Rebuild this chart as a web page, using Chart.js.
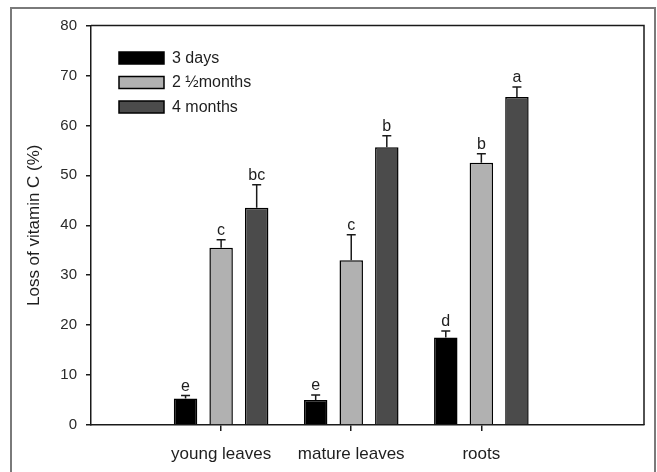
<!DOCTYPE html>
<html>
<head>
<meta charset="utf-8">
<script src="https://cdn.jsdelivr.net/npm/chart.js@4/dist/chart.umd.min.js"></script>
<style>
  html, body { margin: 0; padding: 0; background: #fff; }
  #wrap { width: 657px; height: 472px; position: relative; }
</style>
</head>
<body>
<div id="wrap"><canvas id="chart"></canvas></div>
<script>
// Data
const categories = ['young leaves', 'mature leaves', 'roots'];
const seriesNames = ['3 days', '2 \u00BDmonths', '4 months'];

const days3 = [5.3, 5.0, 17.5];
const days3Err = [0.6, 1.0, 1.3];
const days3Letters = ['e', 'e', 'd'];

const months2half = [35.5, 33.0, 52.5];
const months2halfErr = [1.6, 5.1, 1.8];
const months2halfLetters = ['c', 'c', 'b'];

const months4 = [43.5, 55.6, 65.7];
const months4Err = [4.6, 2.3, 2.0];
const months4Letters = ['bc', 'b', 'a'];

const yTicks = [0, 10, 20, 30, 40, 50, 60, 70, 80];

const FONT = '"Liberation Sans", Arial, sans-serif';
const INK = '#1a1a1a';
const TEXT = '#1e1e1e';

// categories sit at x = 1, 2, 3 on a linear axis
const toPoints = vals => vals.map((v, i) => ({ x: i + 1, y: v }));

const errs = [days3Err, months2halfErr, months4Err];
const letters = [days3Letters, months2halfLetters, months4Letters];

// Outer frame + plot box
const framePlugin = {
  id: 'frame',
  beforeDraw(chart) {
    const ctx = chart.ctx;
    ctx.save();
    ctx.strokeStyle = '#7a7a7a';
    ctx.lineWidth = 2;
    ctx.strokeRect(11, 8, 644, 480);
    ctx.restore();
  },
  afterDraw(chart) {
    const { ctx, chartArea: a } = chart;
    ctx.save();
    ctx.strokeStyle = INK;
    ctx.lineWidth = 1.5;
    ctx.beginPath();
    ctx.moveTo(a.left, a.top);
    ctx.lineTo(a.right, a.top);
    ctx.lineTo(a.right, a.bottom);
    ctx.stroke();
    ctx.restore();
  }
};

// Upper error bars and significance letters
const errorPlugin = {
  id: 'errorBars',
  afterDatasetsDraw(chart) {
    const ctx = chart.ctx;
    const y = chart.scales.y;
    ctx.save();
    ctx.strokeStyle = INK;
    ctx.lineWidth = 1.5;
    ctx.fillStyle = TEXT;
    ctx.font = '16px ' + FONT;
    ctx.textAlign = 'center';
    ctx.textBaseline = 'alphabetic';
    chart.data.datasets.forEach((ds, di) => {
      const meta = chart.getDatasetMeta(di);
      meta.data.forEach((bar, i) => {
        const v = ds.data[i].y;
        const top = y.getPixelForValue(v);
        const eTop = y.getPixelForValue(v + errs[di][i]);
        ctx.beginPath();
        ctx.moveTo(bar.x, top);
        ctx.lineTo(bar.x, eTop);
        ctx.moveTo(bar.x - 4.5, eTop);
        ctx.lineTo(bar.x + 4.5, eTop);
        ctx.stroke();
        ctx.fillText(letters[di][i], bar.x, eTop - 5);
      });
    });
    ctx.restore();
  }
};

// Legend drawn inside the plot, top left
const legendPlugin = {
  id: 'innerLegend',
  afterDraw(chart) {
    const { ctx, chartArea: a } = chart;
    const x0 = a.left + 28;
    const y0 = a.top + 26.5;
    ctx.save();
    ctx.font = '16px ' + FONT;
    ctx.textBaseline = 'middle';
    ctx.textAlign = 'left';
    chart.data.datasets.forEach((ds, i) => {
      const yy = y0 + i * 24.5;
      ctx.fillStyle = ds.backgroundColor;
      ctx.fillRect(x0, yy, 45, 12);
      ctx.strokeStyle = '#000';
      ctx.lineWidth = 1.5;
      ctx.strokeRect(x0, yy, 45, 12);
      ctx.fillStyle = TEXT;
      ctx.fillText(ds.label, x0 + 53, yy + 6.5);
    });
    ctx.restore();
  }
};

const barStyle = {
  borderColor: '#000',
  borderWidth: 1.5,
  categoryPercentage: 0.82,
  barPercentage: 0.66
};

new Chart(document.getElementById('chart'), {
  type: 'bar',
  data: {
    datasets: [
      { label: seriesNames[0], data: toPoints(days3), backgroundColor: '#000000', ...barStyle },
      { label: seriesNames[1], data: toPoints(months2half), backgroundColor: '#b1b1b1', ...barStyle },
      { label: seriesNames[2], data: toPoints(months4), backgroundColor: '#4b4b4b', ...barStyle }
    ]
  },
  options: {
    responsive: true,
    maintainAspectRatio: false,
    animation: false,
    layout: { padding: { top: 25.5, right: 13, left: 0, bottom: 0 } },
    plugins: {
      legend: { display: false },
      tooltip: { enabled: false }
    },
    scales: {
      x: {
        type: 'linear',
        min: 0,
        max: 4.25,
        offset: false,
        bounds: 'data',
        afterBuildTicks: scale => {
          scale.ticks = categories.map((c, i) => ({ value: i + 1 }));
        },
        afterFit: scale => { scale.height = 47; },
        border: { display: true, color: INK, width: 1.5 },
        grid: { offset: false, drawOnChartArea: false, tickLength: 6, color: INK, lineWidth: 1.5 },
        ticks: {
          padding: 13,
          color: TEXT,
          font: { family: FONT, size: 17 },
          maxRotation: 0,
          autoSkip: false,
          callback: v => categories[v - 1] || ''
        }
      },
      y: {
        min: 0,
        max: 80,
        afterBuildTicks: scale => {
          scale.ticks = yTicks.map(v => ({ value: v }));
        },
        afterFit: scale => { scale.width = 91; },
        border: { display: true, color: INK, width: 1.5 },
        grid: { drawOnChartArea: false, tickLength: 5, color: INK, lineWidth: 1.5 },
        ticks: {
          padding: 9,
          color: '#2a2a2a',
          font: { family: FONT, size: 15 }
        },
        title: {
          display: true,
          text: 'Loss of vitamin C (%)',
          color: TEXT,
          font: { family: FONT, size: 17 },
          padding: { top: 24, bottom: 0 }
        }
      }
    }
  },
  plugins: [framePlugin, errorPlugin, legendPlugin]
});
</script>
</body>
</html>
